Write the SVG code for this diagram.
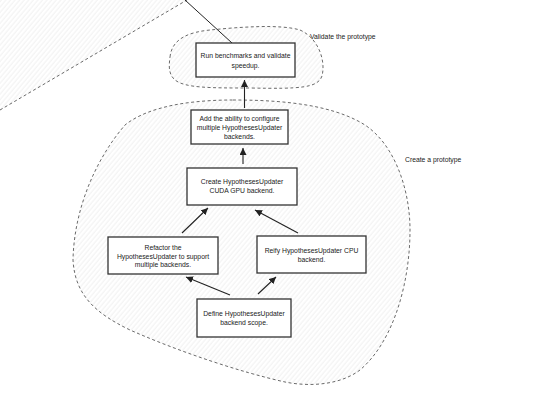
<svg xmlns="http://www.w3.org/2000/svg" width="560" height="403" viewBox="0 0 560 403">
<defs>
<pattern id="hatch" patternUnits="userSpaceOnUse" width="3.5" height="3.5" patternTransform="rotate(40)">
<line x1="1" y1="0" x2="1" y2="3.5" stroke="#ececec" stroke-width="0.8"/>
</pattern>
<marker id="arr" markerWidth="7" markerHeight="7" refX="6" refY="3" orient="auto" markerUnits="userSpaceOnUse" viewBox="0 0 6 6">
<path d="M0,0 L6,3 L0,6 Z" fill="#222"/>
</marker>
<style>
.blob{fill:url(#hatch);stroke:#444;stroke-width:0.8;stroke-dasharray:3 2.5}
.box{fill:#fff;stroke:#333;stroke-width:1.3}
.t{font-family:"Liberation Sans",Arial,sans-serif;font-size:6.8px;fill:#222;text-anchor:middle}
.lbl{font-family:"Liberation Sans",Arial,sans-serif;font-size:6.8px;fill:#222}
.edge{stroke:#222;stroke-width:1.1;fill:none;marker-end:url(#arr)}
</style>
</defs>
<rect width="560" height="403" fill="#fff"/>
<g id="clusters">
<g id="offscreen-cluster">
<path d="M0,110 L187,0 L0,0 Z" fill="url(#hatch)"/>
<path d="M0,110 L187,0" fill="none" stroke="#444" stroke-width="0.8" stroke-dasharray="3 2.5"/>
</g>
<g id="cluster-validate">
<path class="blob" d="M170,57 C172,38 190,32 210,30 C240,27 280,24 300,30 C318,38 326,60 322,76 C318,88 300,89 250,88 C210,88 185,88 175,80 C168,74 169,65 170,57 Z"/>
<text class="lbl" x="310" y="39">Validate the prototype</text>
</g>
<g id="cluster-create">
<path class="blob" d="M233,100 C275,100 330,103 365,125 C395,145 410,190 410,230 C410,280 395,340 360,370 C340,385 310,387 285,382 C240,372 180,352 130,330 C95,313 75,295 73,260 C74,210 95,160 125,125 C150,105 195,100 233,100 Z"/>
<text class="lbl" x="405" y="162">Create a prototype</text>
</g>
</g>
<g id="connectors">
<line x1="185" y1="0" x2="232" y2="43" stroke="#222" stroke-width="1"/>
<line class="edge" x1="244.5" y1="108" x2="244.5" y2="80"/>
<line class="edge" x1="243" y1="164" x2="243" y2="148"/>
<line class="edge" x1="182" y1="233" x2="208" y2="208"/>
<line class="edge" x1="298" y1="233" x2="255" y2="210"/>
<line class="edge" x1="230" y1="295" x2="186" y2="277"/>
<line class="edge" x1="258" y1="294" x2="276" y2="277"/>
</g>
<g id="n1">
<rect class="box" x="196" y="43" width="99" height="34"/>
<text class="t" x="245.5" y="58">Run benchmarks and validate</text>
<text class="t" x="245.5" y="68">speedup.</text>
</g>
<g id="n2">
<rect class="box" x="191" y="110" width="97" height="34"/>
<text class="t" x="239.5" y="120.5">Add the ability to configure</text>
<text class="t" x="239.5" y="129.5">multiple HypothesesUpdater</text>
<text class="t" x="239.5" y="139">backends.</text>
</g>
<g id="n3">
<rect class="box" x="187" y="168" width="110" height="37"/>
<text class="t" x="242" y="184">Create HypothesesUpdater</text>
<text class="t" x="242" y="193">CUDA GPU backend.</text>
</g>
<g id="n4">
<rect class="box" x="108" y="237" width="110" height="37"/>
<text class="t" x="163" y="249.5">Refactor the</text>
<text class="t" x="163" y="258.5">HypothesesUpdater to support</text>
<text class="t" x="163" y="267">multiple backends.</text>
</g>
<g id="n5">
<rect class="box" x="257" y="236" width="109" height="37"/>
<text class="t" x="311.5" y="252.5">Reify HypothesesUpdater CPU</text>
<text class="t" x="311.5" y="261.5">backend.</text>
</g>
<g id="n6">
<rect class="box" x="197" y="299" width="94" height="38"/>
<text class="t" x="244" y="315.5">Define HypothesesUpdater</text>
<text class="t" x="244" y="324.5">backend scope.</text>
</g>
</svg>
